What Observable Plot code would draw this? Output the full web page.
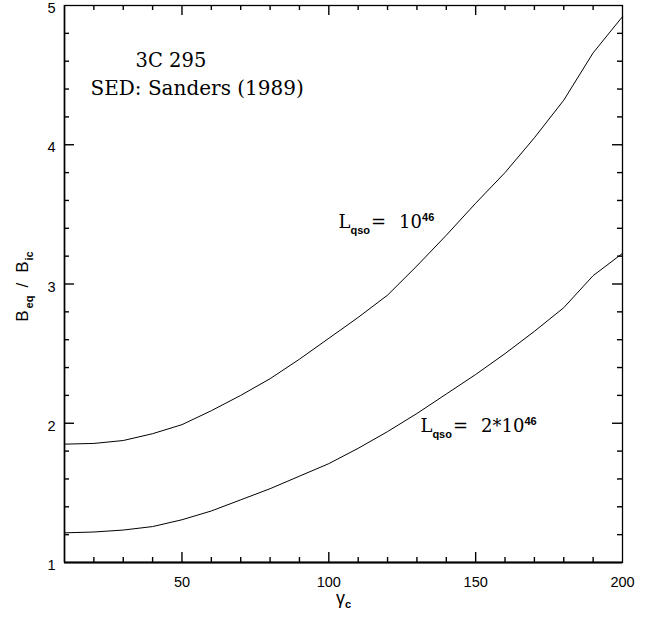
<!DOCTYPE html>
<html><head><meta charset="utf-8">
<script src="https://cdn.jsdelivr.net/npm/d3@7"></script>
<script src="https://cdn.jsdelivr.net/npm/@observablehq/plot@0.6"></script>
<style>body{margin:0;background:#fff}</style>
</head><body><div id="chart"></div>
<script>
// Data
const gamma   = [10,20,30,40,50,60,70,80,90,100,110,120,130,140,150,160,170,180,190,200];
const ratioL1 = [1.85,1.855,1.876,1.925,1.99,2.09,2.20,2.32,2.46,2.61,2.76,2.92,3.13,3.35,3.58,3.80,4.05,4.32,4.66,4.92]; // Lqso = 10^46
const ratioL2 = [1.213,1.219,1.233,1.258,1.307,1.37,1.45,1.53,1.62,1.71,1.82,1.94,2.07,2.21,2.35,2.50,2.66,2.83,3.06,3.22]; // Lqso = 2*10^46
const xTickLabels = [50,100,150,200];
const yTickLabels = [1,2,3,4,5];
const xMinorTicks = [20,30,40,60,70,80,90,110,120,130,140,160,170,180,190];
const yMinorTicks = [1.2,1.4,1.6,1.8,2.2,2.4,2.6,2.8,3.2,3.4,3.6,3.8,4.2,4.4,4.6,4.8];
const xMajorTicks = [50,100,150];
const yMajorTicks = [2,3,4];

const W = 651, H = 617, mL = 64, mR = 29, mT = 5, mB = 55;
const fh = H - mT - mB, fw = W - mL - mR;
const SERIF = "DejaVu Serif, serif", SANS = "Liberation Sans, Arial, Helvetica, sans-serif";

const rows1 = gamma.map((g, i) => ({g, r: ratioL1[i]}));
const rows2 = gamma.map((g, i) => ({g, r: ratioL2[i]}));

const minorLen = 5, majorLen = 10, tickW = 1.4;
const plot = Plot.plot({
  width: W, height: H,
  marginLeft: mL, marginRight: mR, marginTop: mT, marginBottom: mB,
  x: {domain: [10, 200]},
  y: {domain: [1, 5]},
  style: {fontFamily: SANS, fontSize: "14px", color: "black", background: "white", overflow: "visible"},
  marks: [
    Plot.axisX(xTickLabels, {tickSize: 0, tickPadding: 14, fontSize: 14.5, label: null, tickFormat: d => String(d)}),
    Plot.axisY(yTickLabels, {tickSize: 0, tickPadding: 9, dy: 3, fontSize: 14.5, label: null, tickFormat: d => String(d)}),
    // inward ticks, all four sides
    Plot.ruleX(xMinorTicks, {x: d => d, insetTop: fh - minorLen, stroke: "black", strokeWidth: tickW}),
    Plot.ruleX(xMinorTicks, {x: d => d, insetBottom: fh - minorLen, stroke: "black", strokeWidth: tickW}),
    Plot.ruleX(xMajorTicks, {x: d => d, insetTop: fh - majorLen, stroke: "black", strokeWidth: tickW}),
    Plot.ruleX(xMajorTicks, {x: d => d, insetBottom: fh - majorLen, stroke: "black", strokeWidth: tickW}),
    Plot.ruleY(yMinorTicks, {y: d => d, insetRight: fw - minorLen, stroke: "black", strokeWidth: tickW}),
    Plot.ruleY(yMinorTicks, {y: d => d, insetLeft: fw - minorLen, stroke: "black", strokeWidth: tickW}),
    Plot.ruleY(yMajorTicks, {y: d => d, insetRight: fw - majorLen, stroke: "black", strokeWidth: tickW}),
    Plot.ruleY(yMajorTicks, {y: d => d, insetLeft: fw - majorLen, stroke: "black", strokeWidth: tickW}),
    Plot.frame({stroke: "black", strokeWidth: 1.3}),
    Plot.ruleY([1], {stroke: "black", strokeWidth: 2}),
    Plot.ruleX([10], {stroke: "black", strokeWidth: 1.5}),
    Plot.line(rows1, {x: "g", y: "r", stroke: "black", strokeWidth: 1}),
    Plot.line(rows2, {x: "g", y: "r", stroke: "black", strokeWidth: 1}),
    // annotations
    Plot.text([0], {x: 34.2, y: 4.555, text: () => "3C 295", textAnchor: "start", lineAnchor: "bottom", fontFamily: SERIF, fontSize: 19.5, fill: "black"}),
    Plot.text([0], {x: 18.85, y: 4.354, text: () => "SED: Sanders (1989)", textAnchor: "start", lineAnchor: "bottom", fontFamily: SERIF, fontSize: 20, fill: "black"}),
    Plot.text([0], {x: 103.3, y: 3.40, text: () => "KEY_L1", textAnchor: "start", lineAnchor: "bottom", fontFamily: SERIF, fontSize: 18, fill: "black"}),
    Plot.text([0], {x: 131.2, y: 1.934, text: () => "KEY_L2", textAnchor: "start", lineAnchor: "bottom", fontFamily: SERIF, fontSize: 18, fill: "black"}),
    // axis titles
    Plot.text([0], {frameAnchor: "bottom", dy: 41, text: () => "KEY_XT", textAnchor: "middle", lineAnchor: "bottom", fontFamily: SANS, fontSize: 18, fill: "black"}),
    Plot.text([0], {frameAnchor: "left", dx: -37, dy: 2.5, rotate: -90, text: () => "KEY_YT", textAnchor: "middle", lineAnchor: "bottom", fontFamily: SANS, fontSize: 17, fill: "black"})
  ]
});
document.getElementById("chart").appendChild(plot);

function rich(svg, key, parts) {
  d3.select(svg).selectAll("text").filter(function() { return this.textContent === key; }).each(function() {
    const t = d3.select(this);
    t.text(null);
    let cur = 0;
    for (const p of parts) {
      const s = t.append("tspan").text(p.t);
      const target = p.shift || 0;
      if (target !== cur) { s.attr("dy", target - cur); cur = target; }
      if (p.dx) s.attr("dx", p.dx);
      if (p.size) s.attr("font-size", p.size);
      if (p.weight) s.attr("font-weight", p.weight);
      if (p.family) s.attr("font-family", p.family);
    }
  });
}
const sub = {size: 11, weight: "bold", family: SANS};
rich(plot, "KEY_L1", [
  {t: "L"}, {t: "qso", shift: 6, ...sub}, {t: "=", shift: 0, dx: 1},
  {t: "10", dx: 13}, {t: "46", shift: -7, ...sub}
]);
rich(plot, "KEY_L2", [
  {t: "L"}, {t: "qso", shift: 6, ...sub}, {t: "=", shift: 0, dx: 1},
  {t: "2*10", dx: 13}, {t: "46", shift: -7, ...sub}
]);
rich(plot, "KEY_XT", [{t: "γ"}, {t: "c", shift: 4, ...sub}]);
rich(plot, "KEY_YT", [
  {t: "B"}, {t: "eq", shift: 5, dx: 2, ...sub}, {t: "/", shift: 0, dx: 8},
  {t: "B", dx: 10}, {t: "ic", shift: 5, dx: 1, ...sub}
]);
</script>
</body></html>
